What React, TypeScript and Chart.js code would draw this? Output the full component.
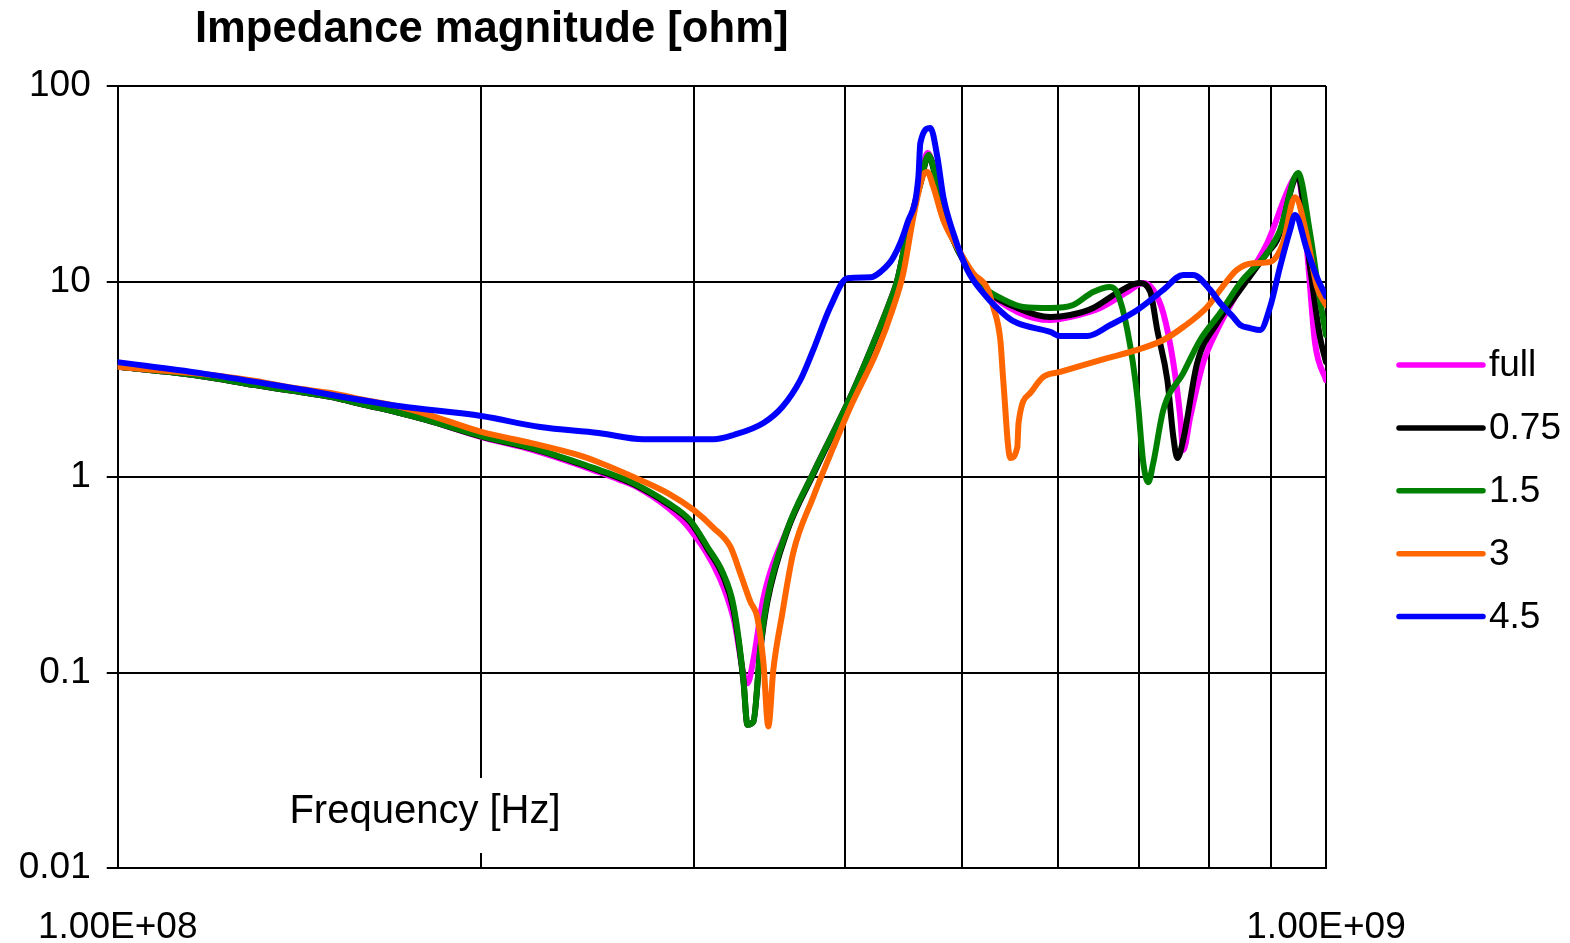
import React, { useEffect, useRef } from "react";
import { Chart, registerables } from "chart.js";

Chart.register(...registerables);

// ---------- Data (frequency in MHz, impedance in ohm) ----------
const seriesNames = ["full", "0.75", "1.5", "3", "4.5"];
const seriesColors = ["#FF00FF", "#000000", "#008000", "#FF6600", "#0000FF"];

const freqFull = [100, 110, 120, 130, 140, 150, 160, 170, 180, 200, 220, 240, 250, 260, 268.8, 285, 297.7, 315.3, 323.3, 332.0, 335.8, 342.3, 358.2, 376.4, 404.0, 419.8, 436.0, 441.8, 450.3, 461.6, 467.8, 473.2, 479.5, 488.7, 504.7, 520.3, 591.3, 614.1, 650.3, 684.8, 706.0, 719.5, 733.4, 747.6, 757.5, 761.8, 772.1, 791.3, 812.6, 837.9, 893.9, 939.2, 948.1, 964.4, 979.3, 1000];
const zFull = [3.66, 3.45, 3.21, 2.95, 2.75, 2.57, 2.34, 2.15, 1.96, 1.60, 1.38, 1.16, 1.06, 0.97, 0.89, 0.70, 0.54, 0.30, 0.19, 0.088, 0.116, 0.24, 0.54, 1.05, 2.57, 4.47, 8.04, 10.2, 17.7, 32.5, 45.4, 39.0, 25.5, 17.8, 11.9, 9.27, 6.35, 6.58, 7.32, 8.84, 9.83, 9.06, 6.90, 3.83, 2.03, 1.37, 2.03, 3.83, 5.65, 8.04, 15.7, 33.1, 34.3, 14.5, 4.85, 3.13];

const freq075 = [100, 110, 120, 130, 140, 150, 160, 170, 180, 200, 220, 240, 250, 260, 267.2, 285, 297.7, 307.6, 317.1, 323.3, 329.5, 332.0, 335.8, 340.3, 344.9, 358.2, 376.4, 404.0, 419.8, 436.0, 441.8, 450.3, 461.6, 468.9, 473.2, 479.5, 488.7, 504.7, 520.3, 555.3, 591.3, 614.1, 641.6, 671.8, 700.5, 715.4, 725.0, 739.1, 747.6, 753.3, 761.8, 782.3, 812.6, 849.1, 893.9, 911.1, 948.1, 970.0, 988.6, 1000];
const z075 = [3.66, 3.45, 3.21, 2.95, 2.75, 2.57, 2.34, 2.15, 1.96, 1.61, 1.40, 1.18, 1.08, 0.99, 0.92, 0.73, 0.59, 0.43, 0.31, 0.21, 0.09, 0.054, 0.056, 0.13, 0.23, 0.53, 1.03, 2.55, 4.4, 7.9, 10.1, 17.5, 31.5, 44.0, 38.0, 25.0, 17.6, 11.8, 9.27, 7.32, 6.58, 6.74, 7.32, 8.74, 9.83, 8.84, 5.65, 3.13, 1.60, 1.25, 1.55, 3.83, 6.13, 9.06, 14.0, 16.3, 34.3, 11.9, 5.20, 3.87];

const freq15 = [100, 110, 120, 130, 140, 150, 160, 170, 180, 200, 220, 240, 250, 260, 267.2, 285, 297.7, 307.6, 317.1, 323.3, 329.5, 332.0, 335.8, 340.3, 344.9, 358.2, 376.4, 404.0, 419.8, 436.0, 441.8, 450.3, 461.6, 468.9, 473.2, 479.5, 488.7, 504.7, 520.3, 537.6, 561.7, 591.3, 617.6, 641.6, 662.9, 671.8, 684.8, 698.0, 706.0, 712.7, 719.5, 733.4, 761.8, 786.8, 817.3, 849.1, 893.9, 916.2, 948.1, 970.0, 988.6, 1000];
const z15 = [3.66, 3.45, 3.21, 2.95, 2.75, 2.57, 2.34, 2.15, 1.96, 1.62, 1.41, 1.19, 1.09, 1.00, 0.93, 0.74, 0.60, 0.44, 0.32, 0.22, 0.092, 0.054, 0.056, 0.135, 0.24, 0.54, 1.05, 2.57, 4.47, 8.04, 10.2, 17.7, 31.9, 44.4, 38.5, 25.2, 17.7, 11.9, 9.38, 8.24, 7.41, 7.32, 7.58, 8.84, 9.38, 8.74, 5.65, 2.57, 1.18, 0.94, 1.18, 2.20, 3.40, 5.02, 6.90, 9.83, 14.0, 18.3, 35.9, 17.7, 8.04, 5.32];

const freq3 = [100, 110, 120, 130, 140, 150, 160, 170, 180, 200, 220, 240, 250, 267.2, 285, 299.4, 311.2, 321.4, 327.6, 333.9, 338.4, 342.3, 345.5, 348.8, 354.8, 362.3, 376.4, 391.1, 404.0, 425.4, 438.5, 446.8, 455.5, 464.2, 467.8, 473.2, 482.3, 495.2, 510.5, 524.3, 530.4, 537.6, 540.6, 547.9, 555.3, 556.6, 569.3, 583.5, 602.6, 629.5, 659.1, 698.0, 733.4, 761.8, 797.4, 817.3, 844.3, 870.3, 899.0, 921.4, 942.7, 964.4, 983.0, 1000];
const z3 = [3.66, 3.48, 3.32, 3.10, 2.85, 2.69, 2.48, 2.31, 2.10, 1.70, 1.49, 1.30, 1.19, 1.00, 0.83, 0.68, 0.55, 0.44, 0.32, 0.23, 0.19, 0.112, 0.053, 0.103, 0.20, 0.41, 0.79, 1.42, 2.28, 4.47, 7.41, 11.0, 21.4, 35.1, 36.3, 30.4, 20.6, 15.0, 11.0, 9.27, 7.41, 5.02, 3.13, 1.25, 1.42, 1.89, 2.69, 3.25, 3.45, 3.74, 4.06, 4.47, 5.02, 5.85, 7.41, 9.06, 11.5, 12.4, 12.6, 15.7, 27.0, 16.9, 9.38, 7.58];

const freq45 = [100, 117.1, 139.5, 171.4, 200, 223.8, 250, 272.4, 311.2, 323.3, 342.3, 354.8, 367.2, 376.4, 388.8, 401.7, 419.8, 427.8, 438.5, 450.3, 459.9, 461.6, 470.5, 476.8, 482.3, 491.5, 504.7, 520.3, 544.8, 555.3, 591.3, 602.6, 634.3, 662.9, 698.0, 733.4, 761.8, 776.3, 802.0, 817.3, 837.9, 849.1, 865.3, 882.0, 899.0, 916.2, 933.8, 942.7, 964.4, 983.0, 1000];
const z45 = [3.87, 3.40, 2.85, 2.30, 2.05, 1.80, 1.68, 1.56, 1.56, 1.64, 1.89, 2.28, 3.13, 4.47, 7.41, 10.4, 10.5, 11.2, 13.3, 19.9, 34.3, 51.1, 61.0, 43.4, 27.0, 17.7, 11.5, 8.74, 6.58, 6.13, 5.52, 5.26, 5.26, 5.99, 7.15, 9.06, 10.8, 10.8, 9.06, 7.76, 6.58, 5.99, 5.78, 5.65, 7.41, 11.9, 18.3, 21.9, 14.5, 10.5, 8.4];

const yTickValues = [0.01, 0.1, 1, 10, 100];
const yTickLabels = ["0.01", "0.1", "1", "10", "100"];
const xGridValues = [1e8, 2e8, 3e8, 4e8, 5e8, 6e8, 7e8, 8e8, 9e8, 1e9];
const xLabelValues = [1e8, 1e9];
const xLabelTexts = ["1.00E+08", "1.00E+09"];

const titleText = "Impedance magnitude [ohm]";
const xAxisTitle = "Frequency [Hz]";

const seriesFreqs = [freqFull, freq075, freq15, freq3, freq45];
const seriesZ = [zFull, z075, z15, z3, z45];
const drawOrder = [4, 3, 2, 1, 0];

const FONT = "'Liberation Sans', Arial, Helvetica, sans-serif";

const overlayPlugin = {
  id: "overlay",
  beforeDatasetsDraw(chart: any) {
    const ctx = chart.ctx;
    ctx.save();
    ctx.fillStyle = "#ffffff";
    ctx.fillRect(283, 778, 286, 75);
    ctx.fillStyle = "#000000";
    ctx.font = `40px ${FONT}`;
    ctx.textAlign = "center";
    ctx.textBaseline = "alphabetic";
    ctx.fillText(xAxisTitle, 425, 823);
    ctx.restore();
  },
  afterDraw(chart: any) {
    const ctx = chart.ctx;
    ctx.save();
    ctx.fillStyle = "#000000";
    ctx.font = `bold 43.6px ${FONT}`;
    ctx.textAlign = "left";
    ctx.textBaseline = "alphabetic";
    ctx.fillText(titleText, 195, 42);

    ctx.font = `37px ${FONT}`;
    seriesNames.forEach((name, i) => {
      const y = 365 + i * 62.9;
      ctx.strokeStyle = seriesColors[i];
      ctx.lineWidth = 5.5;
      ctx.lineCap = "round";
      ctx.beginPath();
      ctx.moveTo(1399, y);
      ctx.lineTo(1483, y);
      ctx.stroke();
      ctx.fillStyle = "#000000";
      ctx.fillText(name, 1489, y + 11);
    });
    ctx.restore();
  },
};

export default function App() {
  const canvasRef = useRef<HTMLCanvasElement | null>(null);

  useEffect(() => {
    document.body.style.margin = "0";
    const canvas = canvasRef.current;
    if (!canvas) return;

    const datasets = seriesNames.map((name, i) => ({
      label: name,
      data: seriesFreqs[i].map((f, j) => ({ x: f * 1e6, y: seriesZ[i][j] })),
      borderColor: seriesColors[i],
      backgroundColor: seriesColors[i],
      borderWidth: 6,
      pointRadius: 0,
      cubicInterpolationMode: "monotone" as const,
      fill: false,
      order: drawOrder[i],
      borderJoinStyle: "round" as const,
      borderCapStyle: "round" as const,
    }));

    const chart = new Chart(canvas, {
      type: "line",
      data: { datasets },
      plugins: [overlayPlugin],
      options: {
        animation: false,
        responsive: false,
        devicePixelRatio: 1,
        layout: { padding: { top: 86, right: 244, left: 0, bottom: 0 } },
        plugins: {
          legend: { display: false },
          title: { display: false },
          tooltip: { enabled: false },
        },
        scales: {
          x: {
            type: "logarithmic",
            min: 1e8,
            max: 1e9,
            afterBuildTicks: (scale: any) => {
              scale.ticks = xGridValues.map((v) => ({ value: v }));
            },
            afterFit: (scale: any) => {
              scale.height = 75;
            },
            ticks: {
              autoSkip: false,
              maxRotation: 0,
              minRotation: 0,
              padding: 38,
              color: "#000000",
              font: { family: FONT, size: 37 },
              callback: (value: any) => {
                const k = xLabelValues.indexOf(Number(value));
                return k >= 0 ? xLabelTexts[k] : "";
              },
            },
            grid: {
              color: "#000000",
              lineWidth: 2,
              drawTicks: false,
            },
            border: { display: true, color: "#000000", width: 2 },
          },
          y: {
            type: "logarithmic",
            min: 0.01,
            max: 100,
            afterBuildTicks: (scale: any) => {
              scale.ticks = yTickValues.map((v) => ({ value: v }));
            },
            afterFit: (scale: any) => {
              scale.width = 117;
            },
            ticks: {
              autoSkip: false,
              padding: 16,
              color: "#000000",
              font: { family: FONT, size: 37 },
              callback: (value: any) => {
                const k = yTickValues.indexOf(Number(value));
                return k >= 0 ? yTickLabels[k] : "";
              },
            },
            grid: {
              color: "#000000",
              lineWidth: 2,
              drawTicks: true,
              tickLength: 11,
            },
            border: { display: true, color: "#000000", width: 2 },
          },
        },
      },
    } as any);

    return () => {
      chart.destroy();
    };
  }, []);

  return (
    <div style={{ position: "absolute", left: 0, top: 0, width: 1570, height: 943, background: "#ffffff" }}>
      <canvas ref={canvasRef} width={1570} height={943} style={{ display: "block" }} />
    </div>
  );
}
